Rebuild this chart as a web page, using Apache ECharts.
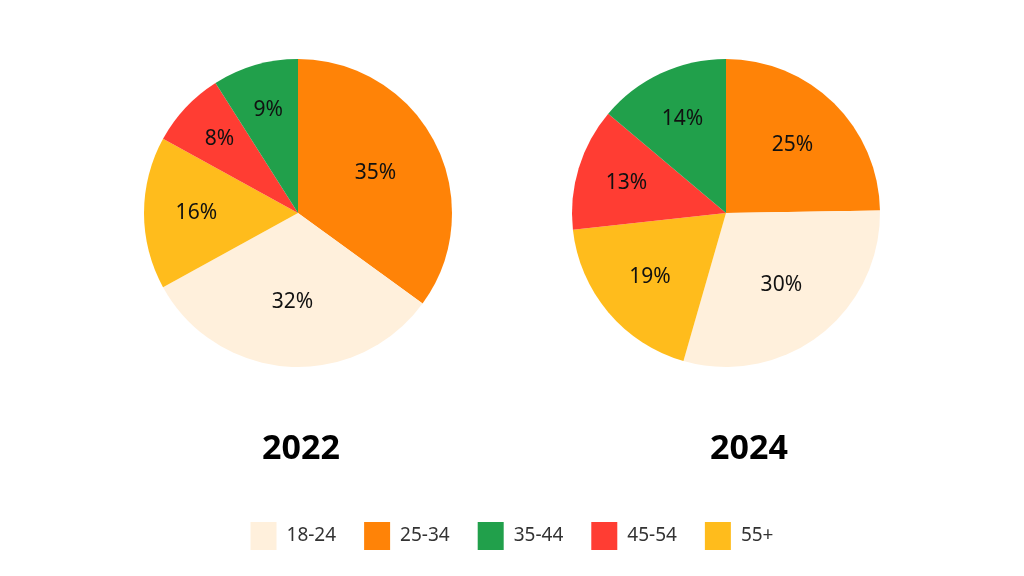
<!DOCTYPE html>
<html>
<head>
<meta charset="utf-8">
<script src="https://cdn.jsdelivr.net/npm/echarts@6/dist/echarts.min.js"></script>
<style>html,body{margin:0;padding:0;background:#fff}#c{width:1024px;height:576px}</style>
</head>
<body>
<div id="c"></div>
<script>
var categories = ['18-24', '25-34', '35-44', '45-54', '55+'];
var colors = ['#FFF0DC', '#FF8307', '#21A04B', '#FF3D33', '#FFBC1C'];
// drawing order clockwise from 12 o'clock
var sliceOrder = ['25-34', '18-24', '55+', '45-54', '35-44'];
var values2022 = { '18-24': 32, '25-34': 35, '35-44': 9, '45-54': 8, '55+': 16 };
var values2024 = { '18-24': 30, '25-34': 25, '35-44': 14, '45-54': 13, '55+': 19 };
var years = ['2022', '2024'];

var pieCenters = [[298, 213], [726, 213]];
var pieRadius = 154;

function buildData(vals) {
  return sliceOrder.map(function (name) {
    return { name: name, value: vals[name], itemStyle: { color: colors[categories.indexOf(name)] } };
  });
}

var allVals = [values2022, values2024].map(function (v) {
  return sliceOrder.map(function (n) { return v[n]; });
});

// best-fit style label placement: smaller slices get labels further out
function labelPos(seriesIndex, dataIndex) {
  var vals = allVals[seriesIndex];
  var total = vals.reduce(function (a, b) { return a + b; }, 0);
  var before = 0;
  for (var i = 0; i < dataIndex; i++) before += vals[i];
  var mid = (before + vals[dataIndex] / 2) / total * 2 * Math.PI;
  var pct = vals[dataIndex] / total * 100;
  var f = 0.74 - 0.005 * pct;
  var c = pieCenters[seriesIndex];
  return { x: c[0] + Math.sin(mid) * pieRadius * f, y: c[1] - Math.cos(mid) * pieRadius * f };
}

function pieSeries(vals, idx) {
  return {
    type: 'pie',
    center: pieCenters[idx],
    radius: [0, pieRadius],
    startAngle: 90,
    clockwise: true,
    animation: false,
    data: buildData(vals),
    itemStyle: { borderWidth: 0 },
    label: {
      show: true,
      position: 'inside',
      formatter: '{c}%',
      color: '#111',
      fontSize: 21,
      fontFamily: 'Noto Sans'
    },
    labelLine: { show: false },
    labelLayout: function (params) {
      return labelPos(params.seriesIndex, params.dataIndex);
    },
    emphasis: { disabled: true }
  };
}

var chart = echarts.init(document.getElementById('c'));
chart.setOption({
  backgroundColor: '#ffffff',
  title: [
    { text: years[0], left: 296, top: 427, textAlign: 'center',
      textStyle: { fontSize: 34, fontWeight: 'bold', color: '#000', fontFamily: 'Noto Sans' } },
    { text: years[1], left: 744, top: 427, textAlign: 'center',
      textStyle: { fontSize: 34, fontWeight: 'bold', color: '#000', fontFamily: 'Noto Sans' } }
  ],
  legend: {
    data: categories.map(function (c, i) { return { name: c, itemStyle: { color: colors[i] } }; }),
    left: 'center',
    top: 517,
    icon: 'rect',
    itemWidth: 26,
    itemHeight: 28,
    itemGap: 28,
    textStyle: { fontSize: 19, color: '#333', fontFamily: 'Noto Sans', padding: [0, 0, 0, 5] }
  },
  series: [
    pieSeries(values2022, 0),
    pieSeries(values2024, 1)
  ]
});
</script>
</body>
</html>
